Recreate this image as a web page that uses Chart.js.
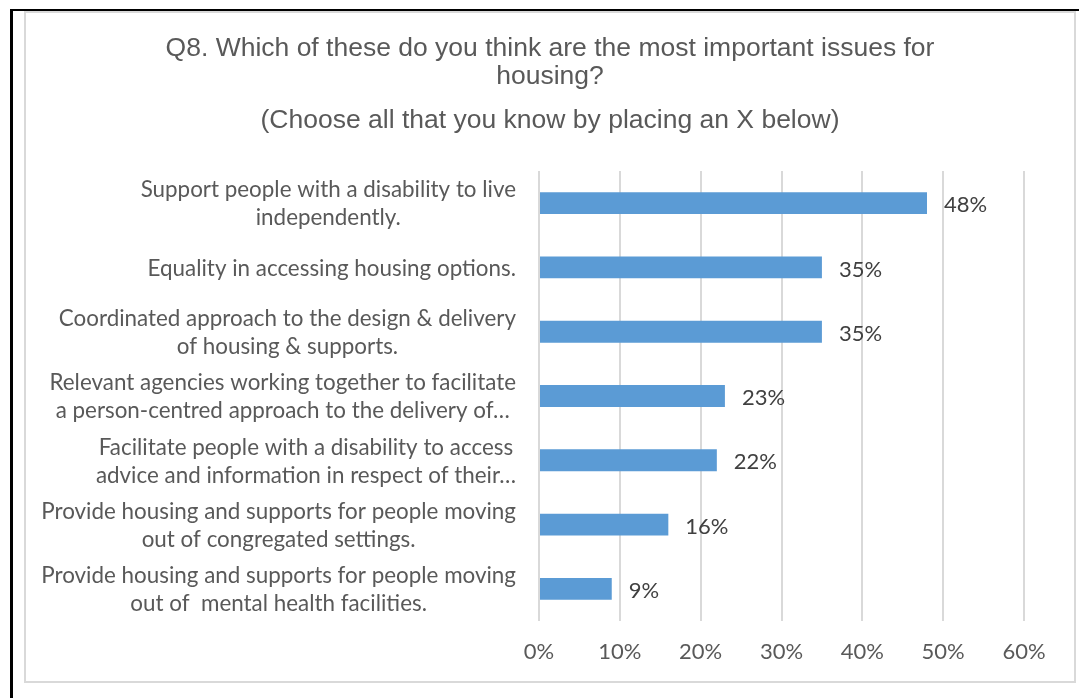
<!DOCTYPE html>
<html>
<head>
<meta charset="utf-8">
<title>Q8 housing issues</title>
<script src="https://cdn.jsdelivr.net/npm/chart.js@4.4.1/dist/chart.umd.min.js"></script>
<style>
  html, body { margin: 0; padding: 0; background: #ffffff; width: 1079px; height: 698px; overflow: hidden; }
  #rule-top  { position: absolute; left: 10px; top: 9px; width: 1069px; height: 2px; background: #000; }
  #rule-left { position: absolute; left: 10px; top: 9px; width: 3px; height: 689px; background: #000; }
  #frame     { position: absolute; left: 24px; top: 11px; width: 1048px; height: 668px; border: 2px solid #D9D9D9; }
  #c         { position: absolute; left: 0; top: 0; }
</style>
</head>
<body>
<div id="rule-top"></div>
<div id="rule-left"></div>
<div id="frame"></div>
<canvas id="c" width="1079" height="698"></canvas>
<script>
// Question text
const titleLines = [
  'Q8. Which of these do you think are the most important issues for',
  'housing?'
];
const subtitleText = '(Choose all that you know by placing an X below)';

// Answer options, already broken into display lines
const categories = [
  ['Support people with a disability to live', 'independently.'],
  ['Equality in accessing housing options.'],
  ['Coordinated approach to the design & delivery', 'of housing & supports.'],
  ['Relevant agencies working together to facilitate', 'a person-centred approach to the delivery of…'],
  ['Facilitate people with a disability to access', 'advice and information in respect of their…'],
  ['Provide housing and supports for people moving', 'out of congregated settings.'],
  ['Provide housing and supports for people moving', 'out of  mental health facilities.']
];

// Share of respondents choosing each option (%)
const values = [48, 35, 35, 23, 22, 16, 9];

// Percentage axis
const axisMin = 0;
const axisMax = 60;
const axisStep = 10;

const LABEL_FONT = 'Lato, "Open Sans", sans-serif';
const TITLE_FONT = '"Liberation Sans", Arial, sans-serif';

// Multi-line category labels: each block right-aligned to the axis, lines centred in the block
const categoryLabelPlugin = {
  id: 'categoryLabels',
  afterDraw(chart) {
    const { ctx, chartArea } = chart;
    const yScale = chart.scales.y;
    const lineH = 28;
    const rightEdge = chartArea.left - 23;
    ctx.save();
    ctx.font = '22.4px ' + LABEL_FONT;
    ctx.fillStyle = '#595959';
    ctx.textAlign = 'center';
    ctx.textBaseline = 'middle';
    categories.forEach((lines, i) => {
      const cy = yScale.getPixelForValue(i) + 1;
      const blockW = Math.max(...lines.map(l => ctx.measureText(l).width));
      const cx = rightEdge - blockW / 2;
      const y0 = cy - (lines.length - 1) * lineH / 2;
      lines.forEach((line, k) => ctx.fillText(line, cx, y0 + k * lineH));
    });
    ctx.restore();
  }
};

// Percentage labels just past the end of each bar
const valueLabelPlugin = {
  id: 'valueLabels',
  afterDatasetsDraw(chart) {
    const { ctx } = chart;
    const meta = chart.getDatasetMeta(0);
    ctx.save();
    ctx.font = '22px ' + LABEL_FONT;
    ctx.fillStyle = '#404040';
    ctx.textAlign = 'left';
    ctx.textBaseline = 'middle';
    meta.data.forEach((bar, i) => {
      ctx.fillText(values[i] + '%', bar.x + 17, bar.y + 2);
    });
    ctx.restore();
  }
};

new Chart(document.getElementById('c'), {
  type: 'bar',
  data: {
    labels: categories.map(l => l.join(' ')),
    datasets: [{
      data: values,
      backgroundColor: '#5B9BD5',
      borderWidth: 0,
      barPercentage: 0.34,
      categoryPercentage: 1
    }]
  },
  options: {
    indexAxis: 'y',
    responsive: false,
    animation: false,
    layout: { padding: { left: 76, right: 55, top: 0, bottom: 0 } },
    plugins: {
      legend: { display: false },
      tooltip: { enabled: false },
      title: {
        display: true,
        text: titleLines,
        color: '#595959',
        font: { family: TITLE_FONT, size: 26.5, weight: 'normal', lineHeight: '28px' },
        padding: { top: 35, bottom: 0 }
      },
      subtitle: {
        display: true,
        text: subtitleText,
        color: '#595959',
        font: { family: TITLE_FONT, size: 26.5, weight: 'normal', lineHeight: '28px' },
        padding: { top: 16, bottom: 36 }
      }
    },
    scales: {
      x: {
        min: axisMin,
        max: axisMax,
        ticks: {
          stepSize: axisStep,
          color: '#595959',
          font: { family: LABEL_FONT, size: 22 },
          padding: 18,
          callback: v => v + '%'
        },
        grid: { color: '#D9D9D9', lineWidth: 2, drawTicks: false },
        border: { display: false },
        afterFit(scale) { scale.height = 77; }
      },
      y: {
        ticks: { display: false },
        grid: { display: false },
        border: { display: false },
        afterFit(scale) { scale.width = 463; }
      }
    }
  },
  plugins: [categoryLabelPlugin, valueLabelPlugin]
});
</script>
</body>
</html>
